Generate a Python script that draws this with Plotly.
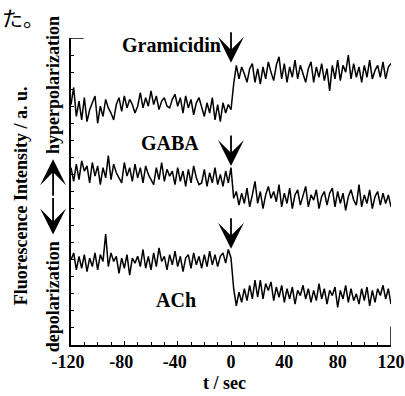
import plotly.graph_objects as go

# time axis (s), 2 s sampling
t = list(range(-120, 121, 2))

gramicidin = [
    14.1, 15.1, 13.4, 14.3, 13.2, 14.5, 13.1, 13.8, 14.2, 14.6,
    13.0, 14.0, 13.4, 14.4, 13.9, 13.6, 13.2, 14.1, 14.5, 13.7,
    14.6, 13.9, 14.4, 14.1, 13.6, 14.0, 14.8, 13.9, 14.5, 14.0,
    14.9, 14.1, 14.6, 13.8, 14.3, 14.5, 14.0, 13.9, 14.4, 14.7,
    14.0, 14.5, 13.6, 14.6, 13.9, 14.4, 13.5, 14.2, 14.5, 13.9,
    13.4, 14.2, 13.6, 14.5, 13.2, 14.1, 13.1, 14.2, 13.6, 14.1,
    13.8,
    15.3, 16.4, 15.6, 16.3, 15.9, 15.4, 16.2, 16.5, 15.4, 16.2,
    15.3, 16.3, 15.6, 16.6, 16.0, 15.5, 16.4, 16.9, 15.6, 16.5,
    15.4, 16.3, 15.7, 16.7, 15.6, 16.4, 15.9, 15.4, 16.2, 16.6,
    15.4, 16.3, 15.7, 16.5, 15.5, 16.2, 14.9, 16.4, 15.6, 16.7,
    15.5, 16.4, 16.0, 17.0, 15.6, 16.5, 15.7, 16.3, 15.4, 16.4,
    15.7, 16.7, 15.6, 16.1, 16.4, 15.7, 16.6, 15.6, 16.3, 16.5,
]

gaba = [
    10.4, 9.6, 10.6, 9.7, 10.8, 10.2, 10.5, 9.5, 10.7, 9.9,
    10.5, 9.4, 10.4, 9.8, 11.1, 9.7, 10.6, 10.1, 9.8, 9.5,
    10.7, 9.9, 10.4, 9.6, 10.6, 9.8, 10.4, 9.5, 10.5, 10.0,
    9.7, 9.4, 10.4, 9.7, 10.7, 9.6, 10.3, 9.9, 10.2, 9.4,
    10.4, 9.6, 10.2, 9.3, 10.3, 9.5, 10.5, 9.8, 9.4, 9.5,
    10.3, 9.3, 10.1, 9.5, 10.4, 9.4, 10.0, 9.3, 10.2, 9.5,
    10.4,
    8.6, 9.0, 8.2, 8.9, 8.3, 9.2, 8.1, 8.8, 9.6, 8.3,
    9.0, 8.0, 8.8, 9.3, 8.6, 9.0, 8.4, 9.4, 8.1, 8.9,
    8.3, 9.2, 8.0, 8.8, 9.1, 8.2, 8.7, 9.3, 8.1, 8.8,
    8.5, 9.1, 8.0, 8.7, 9.0, 8.2, 8.9, 9.2, 8.1, 9.0,
    8.3, 8.9, 7.9, 8.7, 9.1, 8.5, 8.2, 9.4, 8.1, 8.8,
    8.3, 9.1, 8.0, 8.7, 9.0, 8.2, 8.9, 8.3, 8.8, 8.1,
]

ach = [
    5.0, 5.4, 4.4, 5.2, 4.5, 5.3, 4.3, 5.1, 4.6, 5.4,
    4.4, 5.3, 4.9, 6.5, 4.6, 5.4, 4.9, 5.2, 4.2, 5.1,
    4.5, 5.3, 4.1, 5.1, 4.8, 5.2, 4.6, 5.6, 4.5, 5.2,
    4.4, 5.4, 4.6, 5.7, 4.9, 5.2, 4.4, 5.3, 4.7, 5.5,
    4.6, 5.2, 4.3, 5.1, 5.3, 4.5, 5.4, 4.7, 5.2, 4.5,
    5.3, 4.6, 5.5, 4.7, 5.3, 4.6, 5.2, 5.4, 4.8, 5.6,
    5.1,
    3.3, 2.3, 3.1, 2.5, 3.3, 2.6, 3.5, 2.7, 3.8, 2.8,
    3.8, 2.7, 3.6, 3.2, 3.7, 2.6, 3.4, 2.8, 3.5, 2.5,
    3.3, 2.7, 3.4, 2.4, 3.2, 2.9, 3.5, 2.7, 3.3, 2.5,
    3.2, 2.6, 3.6, 2.7, 3.3, 2.4, 3.2, 2.9, 3.4, 2.2,
    3.2, 2.7, 3.5, 2.5, 3.3, 2.6, 3.0, 2.4, 3.3, 2.6,
    3.4, 2.3, 3.2, 2.5, 3.3, 2.9, 3.5, 2.7, 3.3, 2.4,
]

series_names = ["Gramicidin", "GABA", "ACh"]
label_t = [-45, -46, -41]
label_y = [17.6, 11.85, 2.65]
stim_t = [0, 0, 0]
stim_y = [16.55, 10.5, 5.65]

x_ticks = [-120, -80, -40, 0, 40, 80, 120]
# minus sign hangs to the left of the tick; a 1/3-em space balances it
x_tick_text = ["-120\u2004", "-80\u2004", "-40\u2004", "0", "40", "80", "120"]

FONT = "Liberation Serif"


def tfont(size=18):
    return dict(family=FONT, size=size, color="black", weight="bold")


fig = go.Figure()
for ys in (gramicidin, gaba, ach):
    fig.add_trace(go.Scatter(x=t, y=ys, mode="lines",
                             line=dict(color="black", width=1.5),
                             showlegend=False, hoverinfo="skip"))

ann = []
for name, lx, ly in zip(series_names, label_t, label_y):
    ann.append(dict(x=lx, y=ly, xref="x", yref="y", text=name, showarrow=False,
                    xanchor="center", yanchor="middle", font=tfont(20)))
for sx, sy in zip(stim_t, stim_y):
    ann.append(dict(x=sx, y=sy, xref="x", yref="y", text="", showarrow=True,
                    ax=0, ay=-32, arrowhead=3, arrowsize=2.4, arrowwidth=1.8,
                    arrowcolor="black"))

# y axis title and polarization labels
ann.append(dict(x=-0.156, y=0.485, xref="paper", yref="paper",
                text="Fluorescence Intensity / a. u.", textangle=-90,
                xanchor="center", yanchor="middle", showarrow=False, font=tfont(18)))
ann.append(dict(x=-0.056, y=0.847, xref="paper", yref="paper",
                text="hyperpolarization", textangle=-90,
                xanchor="center", yanchor="middle", showarrow=False, font=tfont(18)))
ann.append(dict(x=-0.056, y=0.156, xref="paper", yref="paper",
                text="depolarization", textangle=-90,
                xanchor="center", yanchor="middle", showarrow=False, font=tfont(18)))
ann.append(dict(x=-0.056, y=0.605, xref="paper", yref="paper", text="",
                showarrow=True, ax=0, ay=38, arrowhead=3, arrowsize=2.4,
                arrowwidth=1.8, arrowcolor="black"))
ann.append(dict(x=-0.056, y=0.360, xref="paper", yref="paper", text="",
                showarrow=True, ax=0, ay=-38, arrowhead=3, arrowsize=2.4,
                arrowwidth=1.8, arrowcolor="black"))
ann.append(dict(x=0.481, y=-0.124, xref="paper", yref="paper", text="t / sec",
                xanchor="center", yanchor="middle", showarrow=False, font=tfont(18)))
ann.append(dict(x=-0.222, y=1.068, xref="paper", yref="paper", text="た。",
                xanchor="left", yanchor="middle", showarrow=False,
                font=dict(family="Noto Sans CJK JP", size=21, color="black")))

shapes = [
    dict(type="line", xref="x", yref="y", x0=-120, x1=-110.5, y0=18, y1=18,
         line=dict(color="black", width=1.5)),
    dict(type="line", xref="x", yref="y", x0=120, x1=120, y0=0, y1=1.08,
         line=dict(color="black", width=1.5)),
]

fig.update_layout(
    width=405, height=396,
    margin=dict(l=71, r=14, t=38, b=51, autoexpand=False),
    paper_bgcolor="white", plot_bgcolor="white",
    annotations=ann, shapes=shapes,
    xaxis=dict(range=[-120, 120], tickvals=x_ticks, ticktext=x_tick_text,
               ticks="inside", ticklen=4,
               tickcolor="black", showline=True, linecolor="black", linewidth=1.5,
               showgrid=False, zeroline=False, automargin=False,
               tickfont=tfont(18),
               minor=dict(dtick=10, tick0=-120, ticks="inside", ticklen=3, tickcolor="black")),
    yaxis=dict(range=[0, 18], dtick=1, tick0=0, ticks="inside", ticklen=3,
               tickcolor="black", showline=True, linecolor="black", linewidth=1.5,
               showgrid=False, zeroline=False, showticklabels=False, automargin=False),
)

fig.write_html("out.html", post_script="document.body.style.margin='0';",
               config={"displayModeBar": False})
